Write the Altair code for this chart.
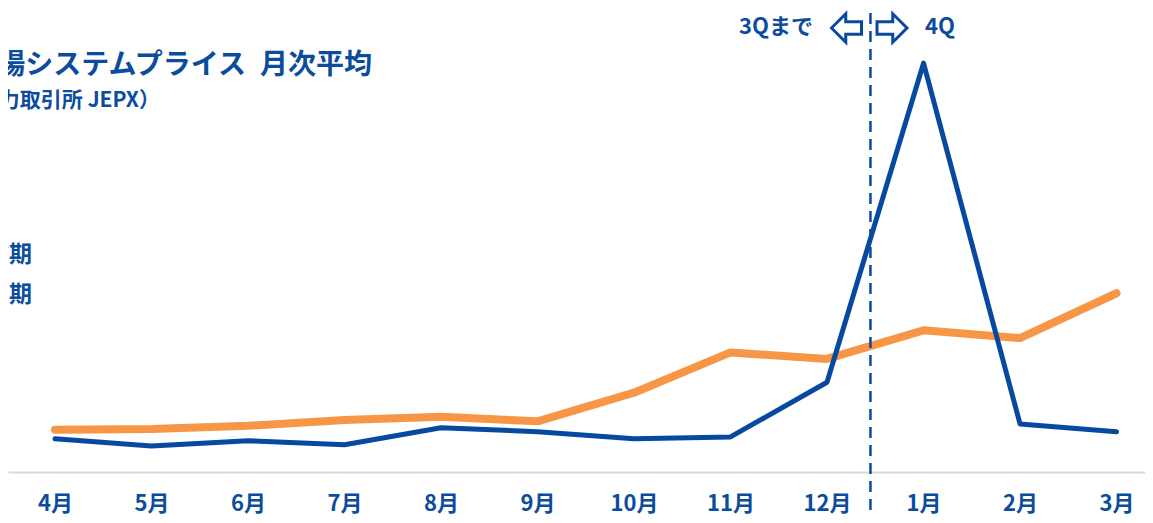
import altair as alt
import pandas as pd

# ---- data ----
months = ["4月", "5月", "6月", "7月", "8月", "9月", "10月", "11月", "12月", "1月", "2月", "3月"]
prev_period = [5.1, 4.0, 4.8, 4.2, 6.8, 6.2, 5.1, 5.4, 13.8, 62.9, 7.4, 6.2]   # blue line
curr_period = [6.5, 6.6, 7.1, 8.0, 8.5, 7.8, 12.2, 18.4, 17.4, 21.8, 20.6, 27.5]  # orange line
series_names = ["前期", "当期"]
title_text = "卸電力市場システムプライス\u2002月次平均"
subtitle_text = "（日本卸電力取引所 JEPX）"
divider_pos = [8.45]   # between 12月 and 1月
left_note = "3Qまで"
right_note = "4Q"

BLUE = "#0849A0"
ORANGE = "#F79646"
TEXT = "#0B4C9D"
FONT = "Noto Sans CJK JP"

W, H = 1137, 464

df = pd.DataFrame({
    "idx": list(range(len(months))) * 2,
    "month": months * 2,
    "value": prev_period + curr_period,
    "series": [series_names[0]] * len(months) + [series_names[1]] * len(months),
})

label_expr = "[" + ",".join(f"'{m}'" for m in months) + "][datum.value]"

xscale = alt.Scale(domain=[-0.487, 11.295], nice=False, zero=False)
yscale = alt.Scale(domain=[0, 71.385], nice=False, zero=True)

xaxis = alt.Axis(
    values=list(range(len(months))), labelExpr=label_expr, title=None,
    grid=False, ticks=False, domain=True, domainColor="#D9D9D9", domainWidth=2,
    labelFont=FONT, labelFontSize=22, labelFontWeight="bold", labelColor=TEXT,
    labelPadding=21, labelOverlap=False, labelFlush=False,
)

base = alt.Chart(df)

orange = base.transform_filter(alt.datum.series == series_names[1]).mark_line(
    color=ORANGE, strokeWidth=8, strokeCap="round", strokeJoin="round"
).encode(
    x=alt.X("idx:Q", scale=xscale, axis=xaxis),
    y=alt.Y("value:Q", scale=yscale, axis=None),
)

blue = base.transform_filter(alt.datum.series == series_names[0]).mark_line(
    color=BLUE, strokeWidth=5, strokeCap="round", strokeJoin="round"
).encode(
    x=alt.X("idx:Q", scale=xscale),
    y=alt.Y("value:Q", scale=yscale),
)

divider = alt.Chart(pd.DataFrame({"pos": divider_pos})).mark_rule(
    color=BLUE, strokeWidth=2.5, strokeDash=[11, 7]
).encode(
    x=alt.X("pos:Q", scale=xscale),
    y=alt.value(5),
    y2=alt.value(515),
)

def txt(s, x, y, size, align="left", font=FONT):
    return alt.Chart(pd.DataFrame({"t": [s]})).mark_text(
        font=font, fontSize=size, fontWeight="bold", color=TEXT,
        align=align, baseline="middle",
    ).encode(x=alt.value(x), y=alt.value(y), text="t:N")

title = txt(title_text, 364, 58, 28, "right")
subtitle = txt(subtitle_text, 152, 93, 21, "right")
leg1 = txt(series_names[0], 24, 247, 23, "right")
leg2 = txt(series_names[1], 24, 287, 23, "right")
note_l = txt(left_note, 805, 19, 22, "right")
note_r = txt(right_note, 917, 19, 22, "left")

LEFT_ARROW = "M-1,0 L-0.05,-0.95 L-0.05,-0.42 L1,-0.42 L1,0.42 L-0.05,0.42 L-0.05,0.95 Z"
RIGHT_ARROW = "M1,0 L0.05,-0.95 L0.05,-0.42 L-1,-0.42 L-1,0.42 L0.05,0.42 L0.05,0.95 Z"

def arrow(shape, x, y):
    return alt.Chart(pd.DataFrame({"a": [0]})).mark_point(
        shape=shape, filled=False, stroke=BLUE, strokeWidth=3, size=900, opacity=1
    ).encode(x=alt.value(x), y=alt.value(y))

arr_l = arrow(LEFT_ARROW, 838.5, 20)
arr_r = arrow(RIGHT_ARROW, 884, 20)

chart = alt.layer(
    orange, blue, divider, title, subtitle, leg1, leg2, note_l, note_r, arr_l, arr_r
).properties(
    width=W, height=H,
    autosize=alt.AutoSizeParams(type="none"),
    padding={"left": 0, "top": 0, "right": 0, "bottom": 43},
).configure_view(stroke=None)

chart.save("out.html", embed_options={"renderer": "svg", "actions": False})
